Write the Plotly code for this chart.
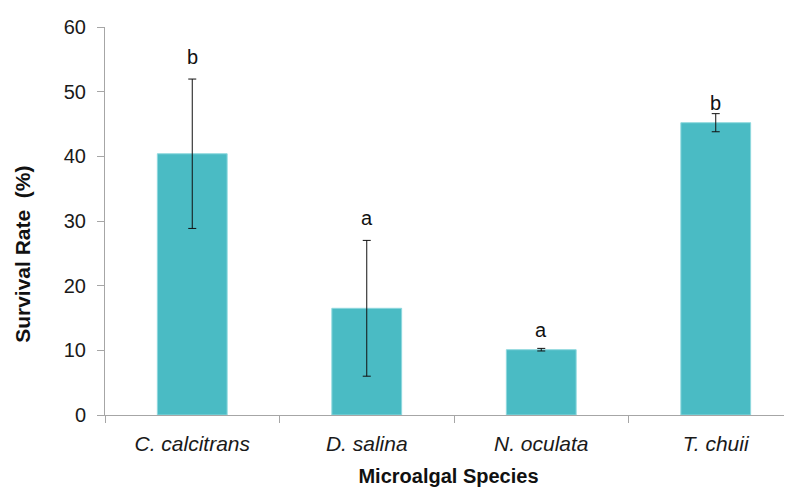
import plotly.graph_objects as go

species = ["C. calcitrans", "D. salina", "N. oculata", "T. chuii"]
survival = [40.4, 16.5, 10.1, 45.2]
sd = [11.55, 10.5, 0.2, 1.4]
letters = ["b", "a", "a", "b"]
letter_y = [55.4, 30.4, 13.2, 48.3]
y_ticks = [0, 10, 20, 30, 40, 50, 60]

FONT = "Liberation Sans, Arial, sans-serif"

fig = go.Figure()
fig.add_trace(go.Bar(
    x=species, y=survival, width=0.4,
    marker=dict(color="#4ABBC4", line=dict(color="#8ED8DE", width=1)),
    error_y=dict(type="data", array=sd, visible=True, color="#111111",
                 thickness=1, width=4),
    showlegend=False,
))

for s, l, yy in zip(species, letters, letter_y):
    fig.add_annotation(x=s, y=yy, text=l, showarrow=False,
                       font=dict(family=FONT, size=20, color="#111111"),
                       xanchor="center", yanchor="middle")

fig.add_annotation(text="<b>Survival Rate  (%)</b>", textangle=-90,
                   xref="paper", yref="paper", x=0, y=0.4127,
                   xanchor="center", yanchor="middle", xshift=-82,
                   showarrow=False,
                   font=dict(family=FONT, size=21, color="#111111"))

fig.update_layout(
    width=792, height=489,
    margin=dict(l=97, r=8, t=12, b=82),
    paper_bgcolor="white", plot_bgcolor="white",
    font=dict(family=FONT, size=20, color="#1a1a1a"),
)
fig.update_xaxes(
    type="category", range=[-0.5, 3.437],
    showline=True, linecolor="#A6A6A6", linewidth=1,
    ticks="outside", ticklen=7, tickcolor="#A6A6A6", tickson="boundaries",
    tickfont=dict(family=FONT, size=21, color="#1a1a1a", style="italic"),
    ticklabelstandoff=10,
    title=dict(text="<b>Microalgal Species</b>", standoff=14,
               font=dict(family=FONT, size=20, color="#111111")),
    showgrid=False, zeroline=False,
)
fig.update_yaxes(
    range=[0, 60], tickvals=y_ticks,
    showline=True, linecolor="#A6A6A6", linewidth=1,
    ticks="outside", ticklen=7, tickcolor="#A6A6A6",
    tickfont=dict(family=FONT, size=20, color="#1a1a1a"),
    ticklabelstandoff=7,
    showgrid=False, zeroline=False,
)

fig.write_html("out.html")
